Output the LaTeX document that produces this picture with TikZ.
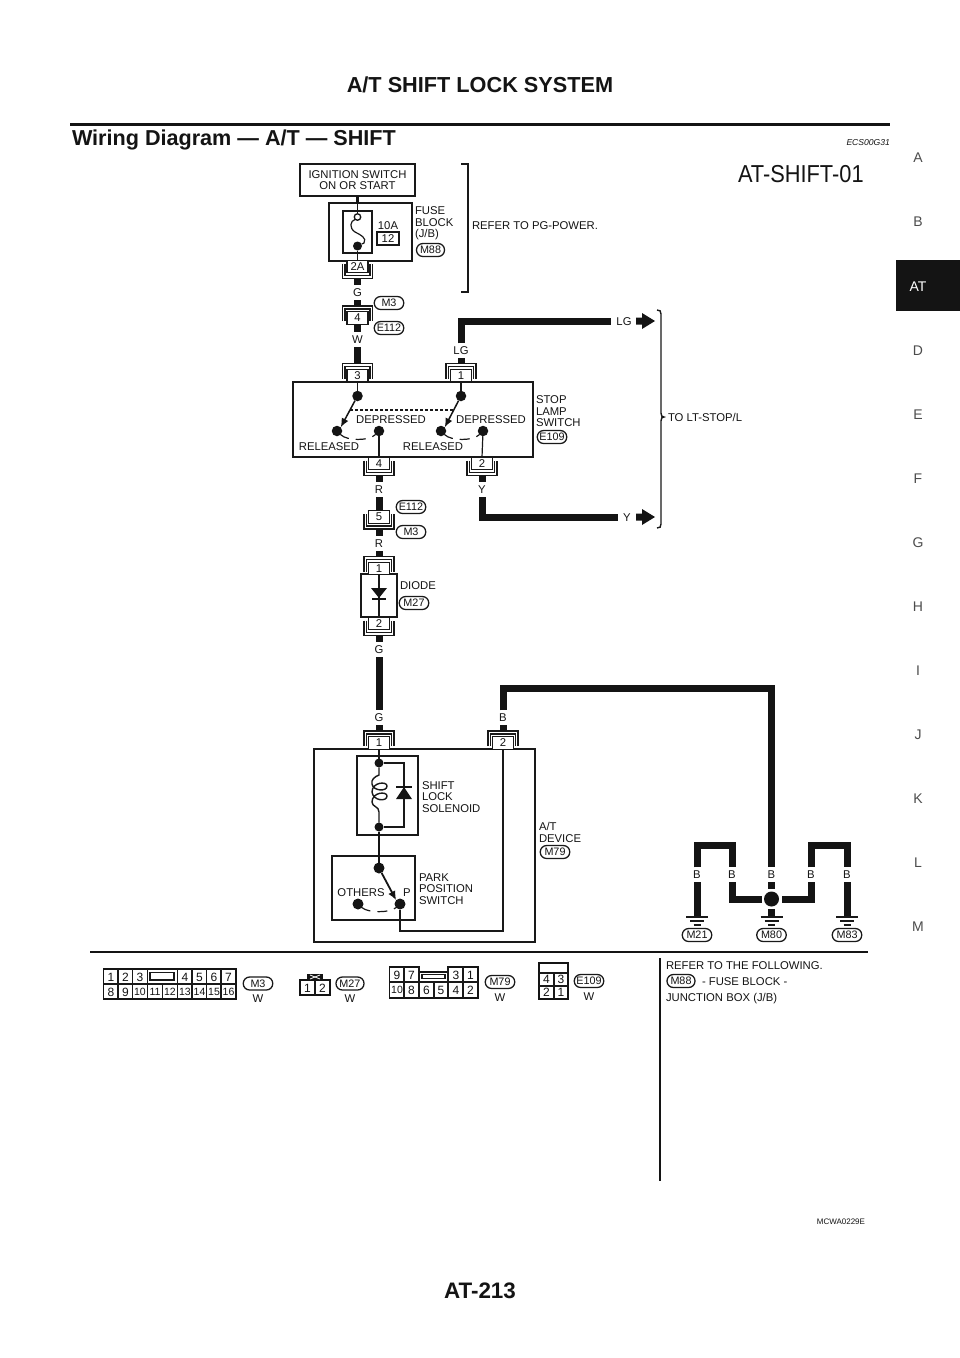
\documentclass[tikz,border=0pt]{standalone}
\usepackage{fontspec}
\setmainfont{Liberation Sans}
\usetikzlibrary{calc,arrows.meta}
\newcommand{\lblsize}{\fontsize{11.3}{11.4}\selectfont}
\tikzset{
  x=1pt,y=-1pt,
  every node/.style={inner sep=0pt,outer sep=0pt,font=\lblsize,text=black!92},
  low/.style={yshift=-0.8pt},
  box/.style={draw=black!90,line width=1.5pt},
  thinw/.style={draw=black!90,line width=1.2pt},
  medw/.style={draw=black!92,line width=2.8pt},
  wire/.style={draw=black!92,line width=7pt,line cap=butt,line join=miter},
  termbox/.style={draw=black!90,line width=1.3pt,fill=white,minimum width=21pt,minimum height=12.5pt},
  brk/.style={draw=black!90,line width=1.2pt},
  wl/.style={minimum height=15pt,inner xsep=5pt,low},
  txt/.style={anchor=west,align=left,low},
  pill/.style={draw=black!90,line width=1.3pt,rounded corners=6.4pt,minimum height=13pt,minimum width=29.5pt,font=\fontsize{10.8}{11}\selectfont},
  dotS/.style={circle,fill=black!92,minimum size=9pt},
  dotL/.style={circle,fill=black!92,minimum size=10.5pt},
  cell/.style={font=\fontsize{12}{12}\selectfont},
  cellb/.style={font=\fontsize{10.5}{11}\selectfont},
  side/.style={font=\fontsize{14}{14}\selectfont,text=black!70,low},
  swarrow/.style={draw=black!92,line width=1.5pt},
  dashw/.style={draw=black!90,line width=1.2pt,dash pattern=on 9pt off 7pt on 10pt off 7pt on 20pt off 3pt},
}
\newcommand{\conT}[4]{% name x ycentre text : bracket above
  \node[termbox] (#1) at (#2,#3) {#4};
  \draw[brk] (#2-12.5,#3+3) -- (#2-12.5,#3-9) -- (#2+12.5,#3-9) -- (#2+12.5,#3+3);
  \draw[brk] (#2-15,#3+3) -- (#2-15,#3-12) -- (#2+15,#3-12) -- (#2+15,#3+3);
  \coordinate (#1-end) at (#2,#3-12);}
\newcommand{\conB}[4]{% bracket below
  \node[termbox] (#1) at (#2,#3) {#4};
  \draw[brk] (#2-12.5,#3-3) -- (#2-12.5,#3+9) -- (#2+12.5,#3+9) -- (#2+12.5,#3-3);
  \draw[brk] (#2-15,#3-3) -- (#2-15,#3+12) -- (#2+15,#3+12) -- (#2+15,#3-3);
  \coordinate (#1-end) at (#2,#3+12);}
\newcommand{\gnd}[2]{%
  \draw[line width=1.4pt,draw=black!90] (#1-11,#2) -- (#1+11,#2);
  \draw[line width=1.4pt,draw=black!90] (#1-7,#2+4) -- (#1+7,#2+4);
  \draw[line width=1.4pt,draw=black!90] (#1-3.5,#2+8) -- (#1+3.5,#2+8);}
\newcommand{\bigarrow}[2]{%
  \fill[black!92] (#1,#2-3.5) -- (#1+6,#2-3.5) -- (#1+6,#2-8) -- (#1+19,#2) -- (#1+6,#2+8) -- (#1+6,#2+3.5) -- (#1,#2+3.5) -- cycle;}
\begin{document}
\begin{tikzpicture}
\useasboundingbox (0,0) rectangle (960,1358);
\fill[white] (0,0) rectangle (960,1358);

% page furniture
\node[font=\bfseries\fontsize{21.7}{22}\selectfont,text=black!92] (title) at (480,85) {A/T SHIFT LOCK SYSTEM};
\draw[line width=3pt,draw=black!92] (70,124) -- (890,124);
\node[anchor=west,font=\bfseries\fontsize{21.6}{22}\selectfont,text=black!92] (sub) at (72,140) {Wiring Diagram — A/T — SHIFT};
\node[anchor=east,font=\itshape\fontsize{8.6}{9}\selectfont] (ecs) at (890,143) {ECS00G31};
\node[font=\bfseries\fontsize{22.4}{23}\selectfont,text=black!92] (page) at (480,1291) {AT-213};
\node[anchor=east,font=\fontsize{8}{8}\selectfont] (mc) at (865,1222) {MCWA0229E};
\node[anchor=west,font=\fontsize{24.5}{25}\selectfont] (sheet) at (738,174) {\scalebox{.89}[1]{AT-SHIFT-01}};

% side index
\fill[black!92] (896,260) rectangle (960,311);
\node[side,text=white] (sAT) at (918,286) {AT};
\node[side] (sA) at (918,157) {A};
\node[side] (sB) at (918,221) {B};
\node[side] (sD) at (918,350) {D};
\node[side] (sE) at (918,414) {E};
\node[side] (sF) at (918,478) {F};
\node[side] (sG) at (918,542) {G};
\node[side] (sH) at (918,606) {H};
\node[side] (sI) at (918,670) {I};
\node[side] (sJ) at (918,734) {J};
\node[side] (sK) at (918,798) {K};
\node[side] (sL) at (918,862) {L};
\node[side] (sM) at (918,926) {M};

% ignition + fuse
\node[box,minimum width=115pt,minimum height=32pt,align=center] (ign) at (357.5,180) {IGNITION SWITCH\\ON OR START};
\node[box,minimum width=83pt,minimum height=58pt] (fuse) at (370.5,232) {};
\node[box,minimum width=29pt,minimum height=42pt] (fusein) at (357.5,232) {};
\node[circle,draw=black!92,line width=1.3pt,fill=white,minimum size=6.5pt] (fo) at (357.5,217) {};
\node[dotS] (fs) at (357.5,246) {};
\draw[medw] (ign.south) -- (357.5,203);
\draw[thinw] (357.5,203) -- (fo.north);
\draw[thinw] (fo.south west) .. controls (350,221) and (349,228) .. (355,232) .. controls (361,235) and (367,238) .. (364,243) -- (fs);
\node[low] (l10A) at (388,225) {10A};
\node[box,line width=1.2pt,minimum width=22pt,minimum height=13pt] (f12) at (388,238.5) {12};
\node[txt] (lfuse) at (415,222.5) {FUSE\\BLOCK\\(J/B)};
\node[pill,minimum width=28pt] (pM88) at (430.5,250) {M88};
\conB{c2A}{357.5}{266.5}{2A}
\draw[thinw] (fs) -- (c2A.north);
\node[wl] (lG1) at (357.5,292) {G};
\draw[wire] (c2A-end) -- (lG1.north);
\draw[line width=1.4pt,draw=black!90] (461,164) -- (468,164) -- (468,292) -- (461,292);
\node[txt] (lref) at (472,225) {REFER TO PG-POWER.};

\conT{c4}{357.5}{318}{4}
\node[pill] (pM3a) at (389,303) {M3};
\node[pill] (pE112a) at (389,328) {E112};
\draw[wire] (lG1.south) -- (c4-end);
\node[wl] (lW) at (357.5,339) {W};
\draw[wire] (c4.south) -- (lW.north);

% stop lamp switch
\node[box,minimum width=240pt,minimum height=75pt] (stop) at (413,419.5) {};
\conT{c3}{357.5}{375.5}{3}
\conT{c1}{461}{375.5}{1}
\draw[wire] (lW.south) -- (c3-end);
\node[wl] (lLG) at (461,350) {LG};
\draw[wire] (lLG.south) -- (c1-end);
\node[wl] (lLGr) at (624,321) {LG};
\draw[wire] (lLG.north) |- (lLGr.west);
\bigarrow{636}{321}
\node[dotL] (s1a) at (357.5,396) {};
\node[dotL] (s1b) at (337,431) {};
\node[dotL] (s1c) at (379,431) {};
\node[dotL] (s2a) at (461,396) {};
\node[dotL] (s2b) at (441,431) {};
\node[dotL] (s2c) at (483,431) {};
\draw[thinw] (c3.south) -- (s1a);
\draw[thinw] (c1.south) -- (s2a);
\draw[swarrow,-{Latex[length=9pt,width=7.5pt]}] (s1a) -- (s1b.north east);
\draw[swarrow,-{Latex[length=9pt,width=7.5pt]}] (s2a) -- (s2b.north east);
\draw[draw=black!90,line width=1.2pt,dash pattern=on 3pt off 2pt] (350,410) -- (453,410);
\draw[dashw] (s1b) .. controls (347,441) and (369,441) .. (s1c);
\draw[dashw] (s2b) .. controls (451,441) and (473,441) .. (s2c);
\node[low] (lD1) at (391,419) {DEPRESSED};
\node[low] (lD2) at (491,419) {DEPRESSED};
\node[low] (lR1) at (329,446) {RELEASED};
\node[low] (lR2) at (433,446) {RELEASED};
\node[txt] (lstop) at (536,410.5) {STOP\\LAMP\\SWITCH};
\node[pill] (pE109a) at (552,437) {E109};
\conB{c4b}{379}{463.5}{4}
\conB{c2b}{482}{463.5}{2}
\draw[thinw] (s1c) -- (c4b.north);
\draw[thinw] (s2c) -- (c2b.north);
\node[wl] (lR3) at (379,489) {R};
\node[wl] (lY) at (482,489) {Y};
\draw[wire] (c4b-end) -- (lR3.north);
\draw[wire] (c2b-end) -- (lY.north);
\node[wl] (lYr) at (627,517) {Y};
\draw[wire] (lY.south) |- (lYr.west);
\bigarrow{636}{517}
% brace
\draw[line width=1.4pt,draw=black!90] (657,310) .. controls (660,310) and (661,311) .. (661,314) -- (661,413) .. controls (661,416) and (662,417) .. (664,417) .. controls (662,417) and (661,418) .. (661,421) -- (661,524) .. controls (661,527) and (660,528) .. (657,528);
\node[txt] (lto) at (668,417) {TO LT-STOP/L};

% E112 / M3 connector
\conB{c5}{379}{517}{5}
\draw[wire] (lR3.south) -- (c5.north);
\node[pill] (pE112b) at (411,507) {E112};
\node[pill] (pM3b) at (411,532) {M3};
\node[wl] (lR4) at (379,543) {R};
\draw[wire] (c5-end) -- (lR4.north);

% diode
\node[box,minimum width=36pt,minimum height=43pt] (diode) at (379,595.5) {};
\conT{c1d}{379}{568.5}{1}
\draw[wire] (lR4.south) -- (c1d-end);
\conB{c2d}{379}{623.5}{2}
\draw[thinw] (c1d.south) -- (c2d.north);
\fill[black!92] (371,588) -- (387,588) -- (379,598) -- cycle;
\draw[line width=1.3pt,draw=black!92] (372,599) -- (386,599);
\node[txt] (ldiode) at (400,585) {DIODE};
\node[pill] (pM27a) at (414,603) {M27};
\node[wl] (lG2) at (379,649) {G};
\draw[wire] (c2d-end) -- (lG2.north);
\node[wl] (lG3) at (379,717) {G};
\draw[wire] (lG2.south) -- (lG3.north);

% A/T device
\node[box,minimum width=221pt,minimum height=193pt] (atd) at (424.5,845.5) {};
\conT{c1a}{379}{743}{1}
\conT{c2a}{503}{743}{2}
\draw[wire] (lG3.south) -- (c1a-end);
\node[wl] (lB0) at (503,717) {B};
\draw[wire] (lB0.south) -- (c2a-end);
\node[wl] (lB3) at (771.5,874) {B};
\coordinate (topB) at (503,688.5);
\draw[wire] (lB0.north) |- (lB3.north |- topB) -- (lB3.north);

% solenoid
\node[box,minimum width=61pt,minimum height=79pt] (sol) at (387.5,795.5) {};
\node[dotS] (n1) at (379,763) {};
\node[dotS] (n2) at (379,827) {};
\draw[thinw] (c1a.south) -- (n1);
\draw[line width=1.3pt,draw=black!90] (n1) -- (404,763) -- (404,827) -- (n2);
\draw[line width=1.4pt,draw=black!90] (n1) -- (379,775) .. controls (374,777) and (371,780) .. (372,784) .. controls (373,791) and (387,792) .. (387,786) .. controls (387,781) and (372,782) .. (372,792) .. controls (373,801) and (387,802) .. (387,796) .. controls (387,791) and (372,792) .. (372,802) .. controls (372,807) and (379,806) .. (379,812) -- (n2);
\fill[black!92] (404,787) -- (412,799) -- (396,799) -- cycle;
\draw[line width=1.3pt,draw=black!92] (396,787) -- (412,787);
\node[txt] (lsol) at (422,796) {SHIFT\\LOCK\\SOLENOID};

% park switch
\node[box,minimum width=83pt,minimum height=64pt] (park) at (373.5,888) {};
\node[dotL,minimum size=11pt] (p1) at (379,868) {};
\node[dotL,minimum size=11pt] (p2) at (400,904) {};
\node[dotL,minimum size=11pt] (p3) at (358,904) {};
\draw[medw] (n2) -- (p1);
\draw[line width=1.8pt,draw=black!92,-{Latex[length=9pt,width=8pt]}] (p1) -- (p2.north west);
\draw[dashw] (p3) .. controls (368,913) and (390,913) .. (p2);
\draw[thinw] (p2) -- (400,931) -- (503,931) -- (c2a.south);
\node[low] (lothers) at (361,892) {OTHERS};
\node[low] (lP) at (407,892) {P};
\node[txt] (lpark) at (419,888) {PARK\\POSITION\\SWITCH};
\node[txt] (latd) at (539,831.5) {A/T\\DEVICE};
\node[pill] (pM79a) at (555,852) {M79};

% grounds
\node[circle,fill=black!92,minimum size=15pt,outer sep=2.5pt] (jM80) at (771.5,899) {};
\draw[wire] (lB3.south) -- (jM80);
\coordinate (gM80) at (771.5,917);
\draw[wire] (jM80) -- (gM80);
\gnd{771.5}{917}
\node[pill] (pM80) at (771.5,935) {M80};

\node[wl] (lB1) at (697,874) {B};
\node[wl] (lB2) at (732,874) {B};
\node[wl] (lB4) at (811,874) {B};
\node[wl] (lB5) at (847,874) {B};
\coordinate (topL) at (697,845);
\draw[wire] (lB1.north) |- (lB2.north |- topL) -- (lB2.north);
\draw[wire] (lB4.north) |- (lB5.north |- topL) -- (lB5.north);
\draw[wire] (lB2.south) |- (jM80.west);
\draw[wire] (lB4.south) |- (jM80.east);
\coordinate (gM21) at (697,917);
\coordinate (gM83) at (847,917);
\draw[wire] (lB1.south) -- (gM21);
\draw[wire] (lB5.south) -- (gM83);
\gnd{697}{917}
\gnd{847}{917}
\node[pill] (pM21) at (697,935) {M21};
\node[pill] (pM83) at (847,935) {M83};

% lower panel
\draw[line width=1.8pt,draw=black!92] (90,952) -- (868,952);
\draw[line width=1.5pt,draw=black!92] (660,958) -- (660,1181);

% M3 connector
\draw[line width=1.6pt,draw=black!92] (103.5,969) rectangle (236,999);
\draw[line width=1.2pt,draw=black!90] (103.5,984) -- (236,984);
\foreach \xx in {118,132.5,147.5,177.5,192,206.5,221}{\draw[line width=1.2pt,draw=black!90] (\xx,969) -- (\xx,999);}
\foreach \xx in {162.5}{\draw[line width=1.2pt,draw=black!90] (\xx,984) -- (\xx,999);}
\draw[line width=1.3pt,draw=black!90] (150,972.5) rectangle (174,980);
\foreach \t/\xx in {1/111,2/125.5,3/140,4/185,5/199.5,6/214,7/228.5}{\node[cell] (mt\t) at (\xx,977) {\t};}
\foreach \t/\xx in {8/111,9/125.5}{\node[cell] (mb\t) at (\xx,992) {\t};}
\foreach \t/\xx in {10/140,11/155,12/170,13/185,14/199.5,15/214,16/228.5}{\node[cellb] (mb\t) at (\xx,992) {\t};}
\node[pill] (pM3c) at (258,983.5) {M3};
\node[low] (wM3) at (258,998) {W};

% M27 connector
\draw[line width=1.6pt,draw=black!92] (300,980) rectangle (330,995);
\draw[line width=1.2pt,draw=black!90] (315,980) -- (315,995);
\fill[black!92] (307,973.5) rectangle (323,980);
\draw[line width=.8pt,draw=white] (310,975) -- (320,979);
\draw[line width=.8pt,draw=white] (310,979) -- (320,975);
\node[cell] (q1) at (307.5,988) {1};
\node[cell] (q2) at (322.5,988) {2};
\node[pill,minimum width=28pt] (pM27b) at (350,983.5) {M27};
\node[low] (wM27) at (350,998) {W};

% M79 connector
\draw[line width=1.6pt,draw=black!92] (389.5,967) -- (419,967) -- (419,972) -- (448,972) -- (448,967) -- (478,967) -- (478,998) -- (389.5,998) -- cycle;
\draw[line width=1.2pt,draw=black!90] (389.5,982) -- (478,982);
\foreach \xx in {404,463}{\draw[line width=1.2pt,draw=black!90] (\xx,967) -- (\xx,998);}
\foreach \xx in {419,448}{\draw[line width=1.2pt,draw=black!90] (\xx,967) -- (\xx,998);}
\draw[line width=1.2pt,draw=black!90] (434,982) -- (434,998);
\draw[line width=1.3pt,draw=black!90] (422,974.5) rectangle (445,978.5);
\foreach \t/\xx in {9/397,7/411.5,3/456,1/470.5}{\node[cell] (st\t) at (\xx,975) {\t};}
\node[cellb] (sb10) at (397,990) {10};
\foreach \t/\xx in {8/411.5,6/426.5,5/441,4/456,2/470.5}{\node[cell] (sb\t) at (\xx,990) {\t};}
\node[pill] (pM79b) at (500,982) {M79};
\node[low] (wM79) at (500,997) {W};

% E109 connector
\draw[line width=1.6pt,draw=black!92] (539,963) rectangle (568,999);
\draw[line width=1.2pt,draw=black!90] (539,973) -- (568,973);
\draw[line width=1.2pt,draw=black!90] (539,986) -- (568,986);
\draw[line width=1.2pt,draw=black!90] (554,973) -- (554,999);
\node[cell] (e4) at (546.5,979.5) {4};
\node[cell] (e3) at (561,979.5) {3};
\node[cell] (e2) at (546.5,992.5) {2};
\node[cell] (e1) at (561,992.5) {1};
\node[pill] (pE109b) at (589,981) {E109};
\node[low] (wE109) at (589,996) {W};

% notes
\node[txt] (nref) at (666,965) {REFER TO THE FOLLOWING.};
\node[pill,minimum width=28pt] (pM88b) at (681,981) {M88};
\node[txt] (nfuse) at (702,981) {- FUSE BLOCK -};
\node[txt] (njb) at (666,998) {JUNCTION BOX (J/B)};
\end{tikzpicture}
\end{document}
